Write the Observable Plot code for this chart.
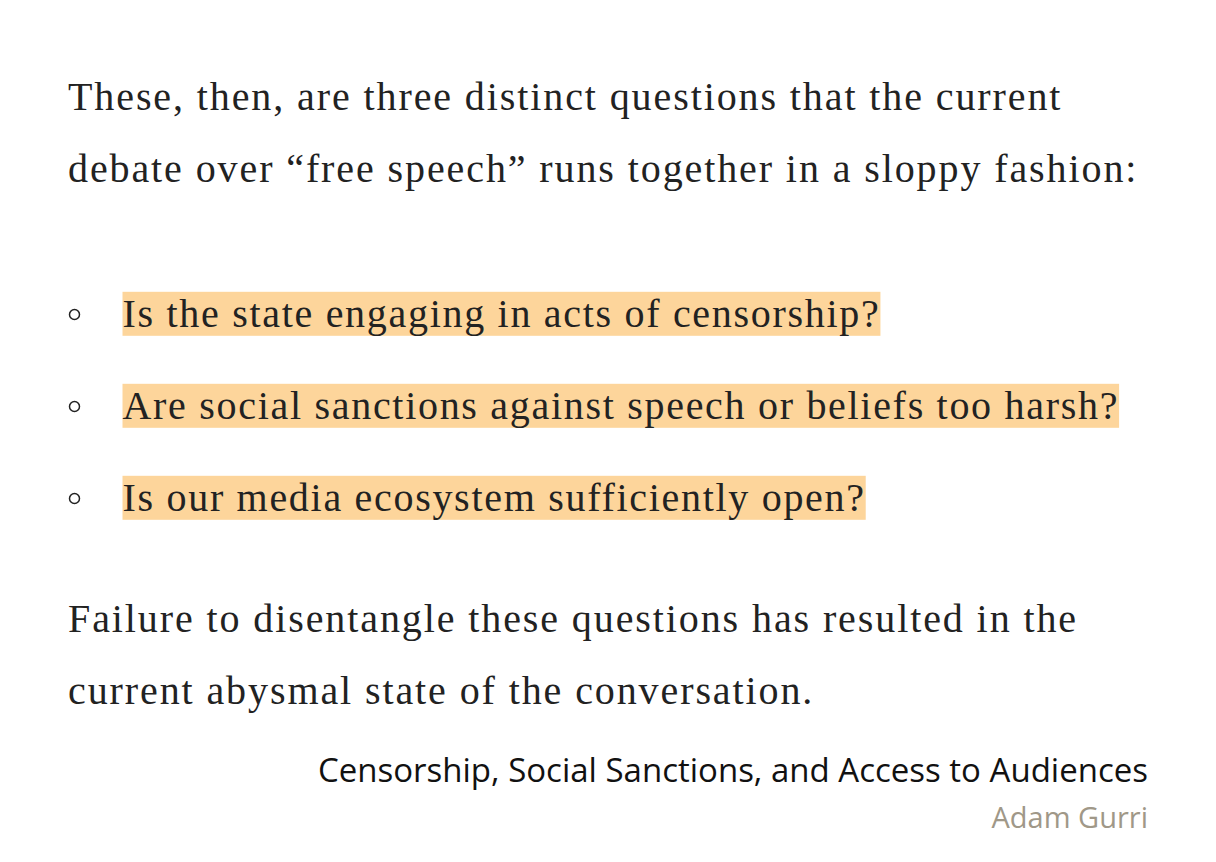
<!DOCTYPE html>
<html><head><meta charset="utf-8">
<script src="https://cdn.jsdelivr.net/npm/d3@7"></script>
<script src="https://cdn.jsdelivr.net/npm/@observablehq/plot@0.6"></script>
<style>
body{margin:0;background:#fff;width:1216px;height:862px;position:relative;overflow:hidden}
.p{position:absolute;left:68px;font-family:"Liberation Serif",serif;font-size:40px;letter-spacing:1.9px;color:#222;line-height:72px;white-space:nowrap}
.src{position:absolute;right:68px;font-family:"Open Sans",sans-serif;text-align:right;white-space:nowrap}
#chart{position:absolute;left:0;top:268px}
</style></head><body>
<div class="p" style="top:61px">These, then, are three distinct questions that the current<br>debate over “free speech” runs together in a sloppy fashion:</div>
<div id="chart"></div>
<div class="p" style="top:583px">Failure to disentangle these questions has resulted in the<br>current abysmal state of the conversation.</div>
<div class="src" style="top:747px;font-size:33px;color:#111">Censorship, Social Sanctions, and Access to Audiences</div>
<div class="src" style="top:797px;font-size:29px;color:#a09888">Adam Gurri</div>
<script>
const questions = [
  "Is the state engaging in acts of censorship?",
  "Are social sanctions against speech or beliefs too harsh?",
  "Is our media ecosystem sufficiently open?"
]

let chart = Plot.plot({
  width: 1216,
  height: 276,
  margin: 0,
  y: {type: "point", domain: questions, axis: null, padding: 0.5},
  marks: [
    Plot.dot(questions, {y: d => d, frameAnchor: "left", dx: 74, r: 5, stroke: "#222", strokeWidth: 1.5, fill: "white"}),
    Plot.text(questions, {y: d => d, text: d => d, frameAnchor: "left", dx: 122, textAnchor: "start",
      fontSize: 40, fontFamily: "Liberation Serif", fill: "#222", style: "letter-spacing:1.7px"})
  ]
})
d3.select('#chart').append(() => chart)

// highlight behind each question
d3.select(chart).selectAll("text").each(function() {
  this.style.letterSpacing = "1.7px"
  const b = this.getBBox()
  const t = this.getAttribute("transform")
  d3.select(this.parentNode).insert("rect", () => this)
    .attr("transform", t)
    .attr("x", b.x).attr("width", b.width)
    .attr("y", b.y + b.height/2 - 22).attr("height", 44)
    .attr("fill", "#fdd59b")
})
</script>
</body></html>
